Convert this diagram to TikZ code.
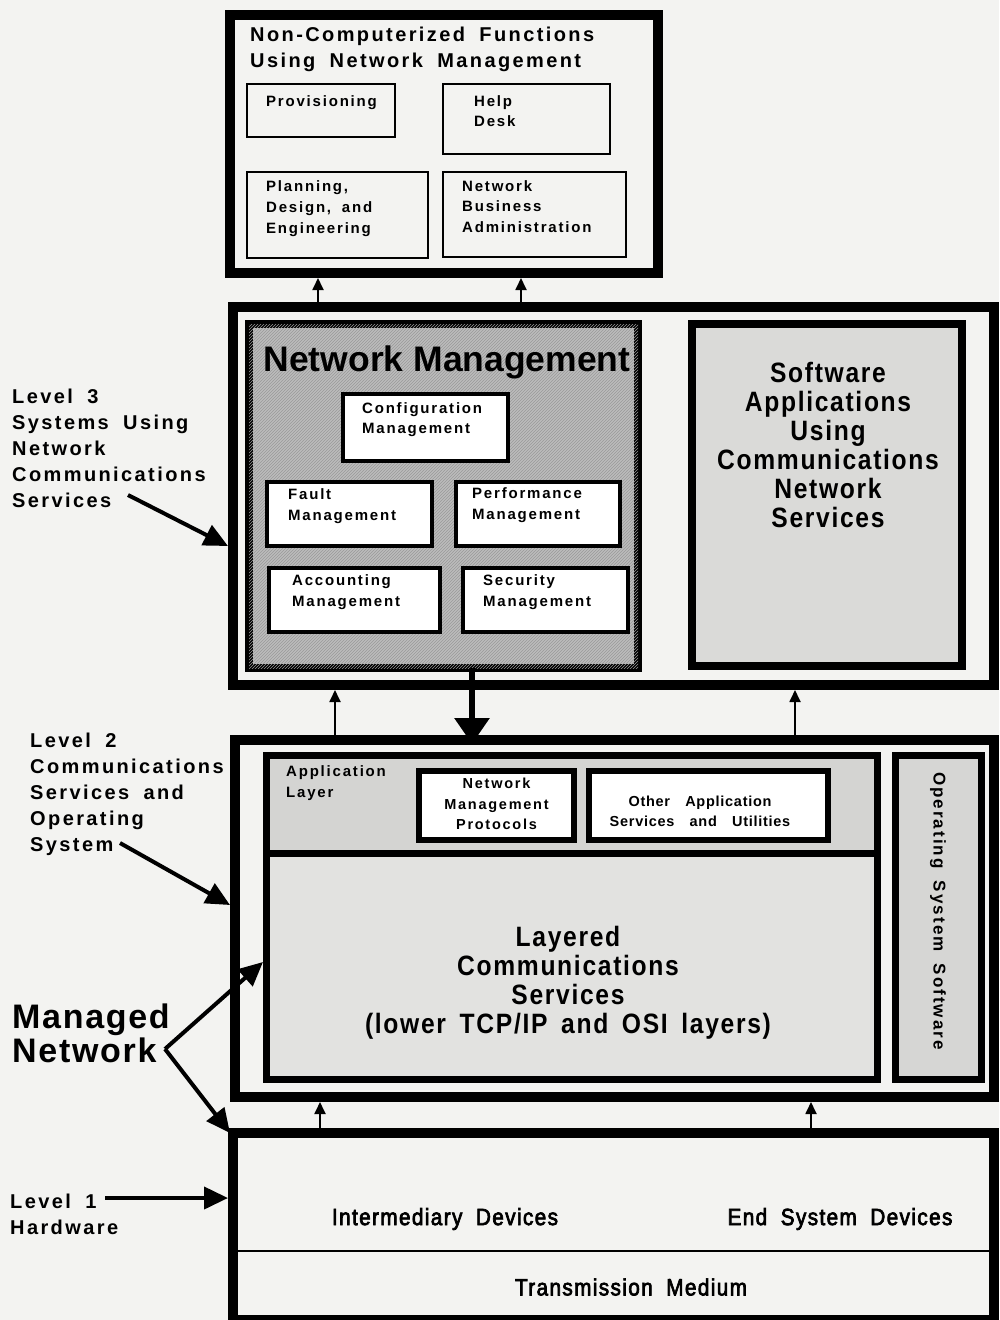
\documentclass[tikz,border=0pt]{standalone}
\usepackage{fontspec}
\setmainfont{Liberation Sans}
\newfontfamily\spc[LetterSpace=12,WordSpace=1.8]{Liberation Sans}
\newfontfamily\spcm[LetterSpace=5,WordSpace=1.6]{Liberation Sans}
\newfontfamily\tall[FakeStretch=0.88,LetterSpace=6,WordSpace=1.6]{Liberation Sans}
\newfontfamily\cond[FakeStretch=0.88,FakeBold=3,LetterSpace=6,WordSpace=1.9]{Liberation Sans}
\usetikzlibrary{arrows.meta,calc,patterns}
\definecolor{paper}{RGB}{243,243,241}
\definecolor{nmgray}{RGB}{188,188,188}
\definecolor{swgray}{RGB}{218,218,216}
\definecolor{apgray}{RGB}{212,212,210}
\definecolor{lcgray}{RGB}{226,226,224}
\definecolor{osgray}{RGB}{214,214,212}
\begin{document}
\begin{tikzpicture}[x=1pt,y=-1pt,
  frame/.style={draw, inner sep=0pt, outer sep=0pt, anchor=north west},
  heavy/.style={frame, line width=10pt},
  panel/.style={frame, line width=8pt},
  slim/.style={frame, line width=2.5pt},
  fnbox/.style={frame, line width=4pt, fill=white},
  aplbox/.style={frame, line width=6pt, fill=white},
  lyrbox/.style={frame, line width=7pt},
  txt/.style={inner sep=0pt, anchor=north west, align=left},
  ctxt/.style={inner sep=0pt, anchor=north, align=center},
  upar/.style={-{Triangle[length=12pt,width=11pt]}, line width=1.8pt},
  dnar/.style={-{Triangle[length=26pt,width=34pt]}, line width=6pt},
  callout/.style={-{Triangle[length=24pt,width=22pt]}, line width=4pt},
  small/.style={font=\fontsize{15}{21}\selectfont\spc\bfseries},
  side/.style={font=\fontsize{20}{26}\selectfont\spc\bfseries},
  big/.style={font=\fontsize{28}{29}\selectfont\tall\bfseries},
  hw/.style={font=\fontsize{23.5}{24}\selectfont\cond, inner sep=0pt}
]
\useasboundingbox (0,0) rectangle (999,1320);
\fill[paper] (0,0) rectangle (999,1320);

% ---------- non-computerized functions ----------
\node[heavy, minimum width=428pt, minimum height=258pt] (ncf) at (230,15) {};
\node[txt, side] (ncft) at (250,27) {Non-Computerized Functions\\Using Network Management};
\node[slim, minimum width=148pt, minimum height=53pt] (prov) at (247,84) {};
\node[txt, small] (provt) at (266,95) {Provisioning};
\node[slim, minimum width=167pt, minimum height=70pt] (help) at (443,84) {};
\node[txt, font=\fontsize{15}{20}\selectfont\spc\bfseries] (helpt) at (474,95) {Help\\Desk};
\node[slim, minimum width=181pt, minimum height=86pt] (plan) at (247,172) {};
\node[txt, small] (plant) at (266,180) {Planning,\\Design, and\\Engineering};
\node[slim, minimum width=183pt, minimum height=85pt] (nba) at (443,172) {};
\node[txt, font=\fontsize{15}{20.5}\selectfont\spc\bfseries] (nbat) at (462,180) {Network\\Business\\Administration};

% ---------- level 3 ----------
\node[heavy, minimum width=761pt, minimum height=378pt] (lvl3) at (233,307) {};
\node[panel, fill=nmgray, postaction={pattern=north east lines, pattern color=black!40},
  minimum width=389pt, minimum height=344pt] (nm) at (249,324) {};
\node[ctxt, font=\fontsize{35.5}{36}\selectfont\bfseries] (nmt) at (447,346) {Network Management};
\node[fnbox, minimum width=165pt, minimum height=67pt] (cfg) at (343,394) {};
\node[txt, font=\fontsize{15}{20}\selectfont\spc\bfseries] (cfgt) at (362,402) {Configuration\\Management};
\node[fnbox, minimum width=165pt, minimum height=64pt] (flt) at (267,482) {};
\node[txt, small] (fltt) at (288,488) {Fault\\Management};
\node[fnbox, minimum width=164pt, minimum height=64pt] (prf) at (456,482) {};
\node[txt, small] (prft) at (472,487) {Performance\\Management};
\node[fnbox, minimum width=171pt, minimum height=64pt] (acc) at (269,568) {};
\node[txt, small] (acct) at (292,574) {Accounting\\Management};
\node[fnbox, minimum width=165pt, minimum height=64pt] (sec) at (463,568) {};
\node[txt, small] (sect) at (483,574) {Security\\Management};

\node[panel, fill=swgray, minimum width=270pt, minimum height=342pt] (sw) at (692,324) {};
\node[ctxt, big] (swt) at (828,362)
  {Software\\Applications\\Using\\Communications\\Network\\Services};

% ---------- level 2 ----------
\node[heavy, minimum width=759pt, minimum height=357pt] (lvl2) at (235,740) {};
\node[lyrbox, fill=apgray, minimum width=611pt, minimum height=97.5pt] (appl) at (266.5,755.5) {};
\node[lyrbox, fill=lcgray, minimum width=611pt, minimum height=226.5pt] (lcs) at (266.5,853) {};
\node[txt, font=\fontsize{15}{21}\selectfont\spc\bfseries] (applt) at (286,765) {Application\\Layer};
\node[aplbox, minimum width=155pt, minimum height=69pt] (nmp) at (419,771) {};
\node[ctxt, font=\fontsize{14.5}{20.5}\selectfont\spc\bfseries] (nmpt) at (nmp.center |- 0,778) {Network\\Management\\Protocols};
\node[aplbox, minimum width=239pt, minimum height=69pt] (oth) at (589,771) {};
\node[ctxt, font=\fontsize{14.5}{20}\selectfont\spcm\bfseries] (otht) at (700,796) {Other~~Application\\Services~~and~~Utilities};
\node[ctxt, big] (lcst) at (568,926)
  {Layered\\Communications\\Services\\(lower TCP/IP and OSI layers)};
\node[lyrbox, fill=osgray, minimum width=86pt, minimum height=324pt] (os) at (895.5,755.5) {};
\node[inner sep=0pt, rotate=-90, font=\fontsize{17}{17}\selectfont\spc\bfseries] (ost) at (938,911) {Operating System Software};

% ---------- level 1 ----------
\node[heavy, minimum width=761pt, minimum height=187pt] (lvl1) at (233,1133) {};
\draw[line width=2.5pt] (lvl1.west |- 0,1251) -- (lvl1.east |- 0,1251);
\node[hw] (idev) at (445,1219) {Intermediary Devices};
\node[hw] (edev) at (840,1219) {End System Devices};
\node[hw] (tmed) at (631,1287) {Transmission Medium};

% ---------- arrows between layers ----------
\draw[upar] (lvl3.north -| 318,0) -- ([yshift=-5pt]ncf.south -| 318,0);
\draw[upar] (lvl3.north -| 521,0) -- ([yshift=-5pt]ncf.south -| 521,0);
\draw[upar] (lvl2.north -| 335,0) -- ([yshift=-5pt]lvl3.south -| 335,0);
\draw[upar] (lvl2.north -| 795,0) -- ([yshift=-5pt]lvl3.south -| 795,0);
\draw[dnar] (nm.south -| 472,0) -- ([yshift=-4pt]lvl2.north -| 472,0);
\draw[upar] (lvl1.north -| 320,0) -- ([yshift=-5pt]lvl2.south -| 320,0);
\draw[upar] (lvl1.north -| 811,0) -- ([yshift=-5pt]lvl2.south -| 811,0);

% ---------- side labels ----------
\node[txt, side] (l3) at (12,389) {Level 3\\Systems Using\\Network\\Communications\\Services};
\node[txt, side] (l2) at (30,733) {Level 2\\Communications\\Services and\\Operating\\System};
\node[txt, font=\fontsize{34}{34}\selectfont\spcm\bfseries] (mn) at (12,1004) {Managed\\Network};
\node[txt, side] (l1) at (10,1194) {Level 1\\Hardware};

\coordinate (l3s) at (128,495);
\coordinate (l2s) at (120,843);
\coordinate (mnv) at (165,1049);
\coordinate (l1s) at (105,1198);
\draw[callout] (l3s) -- ([xshift=-5pt]lvl3.west |- 0,546);
\draw[callout] (l2s) -- ([xshift=-5pt]lvl2.west |- 0,905);
\draw[callout] (mnv) -- ([xshift=-3.5pt]lcs.west |- 0,962);
\draw[callout] (mnv) -- ([xshift=-3pt]lvl1.north west);
\draw[callout] (l1s) -- ([xshift=-5pt]lvl1.west |- l1s);
\end{tikzpicture}
\end{document}
